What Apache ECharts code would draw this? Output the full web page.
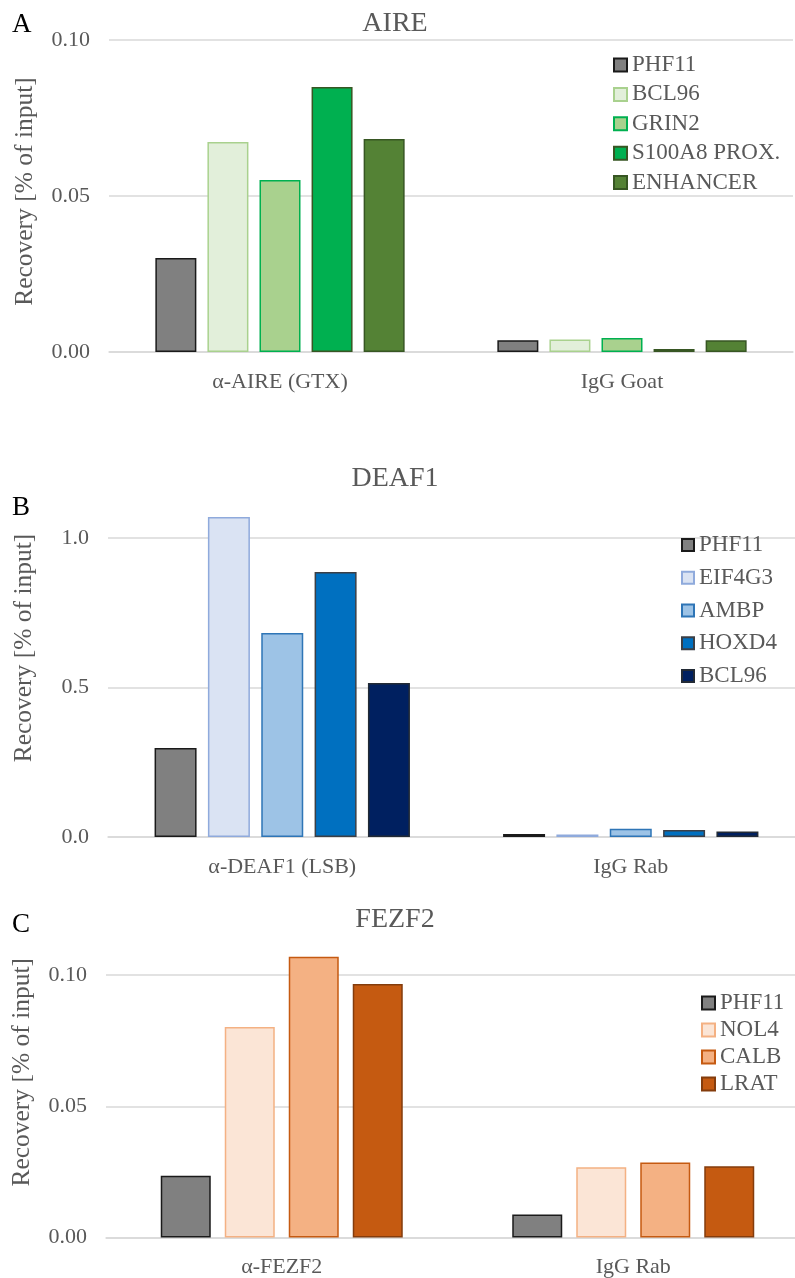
<!DOCTYPE html>
<html>
<head>
<meta charset="utf-8">
<title>ChIP recovery: AIRE, DEAF1, FEZF2</title>
<script src="https://cdn.jsdelivr.net/npm/echarts@6/dist/echarts.min.js"></script>
<style>
  html, body { margin: 0; padding: 0; background: #ffffff; overflow: hidden; }
  #chart { width: 830px; height: 1278px; }
</style>
</head>
<body>
<div id="chart"></div>
<script>
// ---- Panel A: AIRE ----
const aireCategories = ['α-AIRE (GTX)', 'IgG Goat'];
const aireTargets = ['PHF11', 'BCL96', 'GRIN2', 'S100A8 PROX.', 'ENHANCER'];
const aireIP = [0.0301, 0.0673, 0.0551, 0.0849, 0.0683];
const aireIgG = [0.0038, 0.0040, 0.0045, 0.0010, 0.0038];
const aireTicks = ['0.00', '0.05', '0.10'];

// ---- Panel B: DEAF1 ----
const deafCategories = ['α-DEAF1 (LSB)', 'IgG Rab'];
const deafTargets = ['PHF11', 'EIF4G3', 'AMBP', 'HOXD4', 'BCL96'];
const deafIP = [0.298, 1.070, 0.682, 0.886, 0.515];
const deafIgG = [0.010, 0.008, 0.028, 0.023, 0.018];
const deafTicks = ['0.0', '0.5', '1.0'];

// ---- Panel C: FEZF2 ----
const fezfCategories = ['α-FEZF2', 'IgG Rab'];
const fezfTargets = ['PHF11', 'NOL4', 'CALB', 'LRAT'];
const fezfIP = [0.0235, 0.0802, 0.1070, 0.0966];
const fezfIgG = [0.0088, 0.0268, 0.0286, 0.0271];
const fezfTicks = ['0.00', '0.05', '0.10'];

// ---- styling ----
const serif = "'Liberation Serif', 'Times New Roman', serif";
const textGrey = '#595959';
const gridGrey = '#d9d9d9';

const aireFill = ['#808080', '#e2efda', '#a9d18e', '#00b050', '#548235'];
const aireEdge = ['#1a1a1a', '#a9d18e', '#00b050', '#375623', '#375623'];
const deafFill = ['#808080', '#dae3f3', '#9dc3e6', '#0070c0', '#002060'];
const deafEdge = ['#1a1a1a', '#8faadc', '#2e75b6', '#3b3f46', '#222a35'];
const fezfFill = ['#808080', '#fbe5d6', '#f4b183', '#c55a11'];
const fezfEdge = ['#1a1a1a', '#f4b183', '#c55a11', '#843c0c'];

// series names carry a panel prefix so identical gene names stay separate per legend
function panelSeries(prefix, targets, ip, igg, fills, edges, idx, barWidth, barGap) {
  return targets.map((t, i) => ({
    type: 'bar',
    name: prefix + '|' + t,
    xAxisIndex: idx,
    yAxisIndex: idx,
    data: [ip[i], igg[i]],
    barWidth: barWidth,
    barGap: barGap,
    clip: false,
    itemStyle: { color: fills[i], borderColor: edges[i], borderWidth: 1.5 },
    emphasis: { disabled: true }
  }));
}

function xAxisFor(idx, cats) {
  return {
    type: 'category', gridIndex: idx, data: cats,
    axisTick: { show: false },
    axisLine: { lineStyle: { color: gridGrey, width: 1.5 } },
    axisLabel: { color: textGrey, fontFamily: serif, fontSize: 22, margin: 19 }
  };
}

function yAxisFor(idx, max, interval, ticks, shift) {
  return {
    type: 'value', gridIndex: idx, min: 0, max: max, interval: interval,
    name: 'Recovery [% of input]',
    nameLocation: 'middle',
    nameGap: 71,
    nameTextStyle: { color: textGrey, fontFamily: serif, fontSize: 25.5, padding: [0, 0, 0, shift * 2] },
    axisLine: { show: false },
    axisTick: { show: false },
    splitLine: { lineStyle: { color: gridGrey, width: 1.5 } },
    axisLabel: {
      color: textGrey, fontFamily: serif, fontSize: 22, margin: 19,
      formatter: v => ticks[Math.round(v / interval)]
    }
  };
}

function legendFor(prefix, targets, left, top, gap, box) {
  return {
    orient: 'vertical', left: left, top: top, padding: 0,
    itemWidth: box, itemHeight: box, itemGap: gap, icon: 'rect',
    selectedMode: false,
    data: targets.map(t => prefix + '|' + t),
    formatter: n => n.split('|')[1],
    textStyle: { color: textGrey, fontFamily: serif, fontSize: 23 }
  };
}

const titleStyle = { color: textGrey, fontFamily: serif, fontSize: 28, fontWeight: 'normal' };
const letterStyle = { color: '#000000', fontFamily: serif, fontSize: 27, fontWeight: 'normal' };

const option = {
  animation: false,
  backgroundColor: '#ffffff',
  title: [
    { text: 'AIRE', left: 395, top: 10, textAlign: 'center', padding: 0, textStyle: titleStyle },
    { text: 'DEAF1', left: 395, top: 465, textAlign: 'center', padding: 0, textStyle: titleStyle },
    { text: 'FEZF2', left: 395, top: 906, textAlign: 'center', padding: 0, textStyle: titleStyle },
    { text: 'A', left: 12, top: 11, padding: 0, textStyle: letterStyle },
    { text: 'B', left: 12, top: 494, padding: 0, textStyle: letterStyle },
    { text: 'C', left: 12, top: 911, padding: 0, textStyle: letterStyle }
  ],
  grid: [
    { left: 109, top: 40, width: 684, height: 312, outerBoundsMode: 'none' },
    { left: 108, top: 538, width: 697, height: 299, outerBoundsMode: 'none' },
    { left: 106, top: 975, width: 703, height: 262.5, outerBoundsMode: 'none' }
  ],
  xAxis: [
    xAxisFor(0, aireCategories),
    xAxisFor(1, deafCategories),
    xAxisFor(2, fezfCategories)
  ],
  yAxis: [
    yAxisFor(0, 0.10, 0.05, aireTicks, 4.5),
    yAxisFor(1, 1.0, 0.5, deafTicks, 39.5),
    yAxisFor(2, 0.10, 0.05, fezfTicks, 34)
  ],
  legend: [
    legendFor('A', aireTargets, 613, 53.5, 6.4, 13),
    legendFor('B', deafTargets, 681, 533.5, 9.75, 12),
    legendFor('C', fezfTargets, 701, 991.5, 4, 13)
  ],
  series: [].concat(
    panelSeries('A', aireTargets, aireIP, aireIgG, aireFill, aireEdge, 0, 41, '27%'),
    panelSeries('B', deafTargets, deafIP, deafIgG, deafFill, deafEdge, 1, 42, '27%'),
    panelSeries('C', fezfTargets, fezfIP, fezfIgG, fezfFill, fezfEdge, 2, 50, '28%')
  )
};

const chart = echarts.init(document.getElementById('chart'), null, { renderer: 'canvas' });
chart.setOption(option);
</script>
</body>
</html>
